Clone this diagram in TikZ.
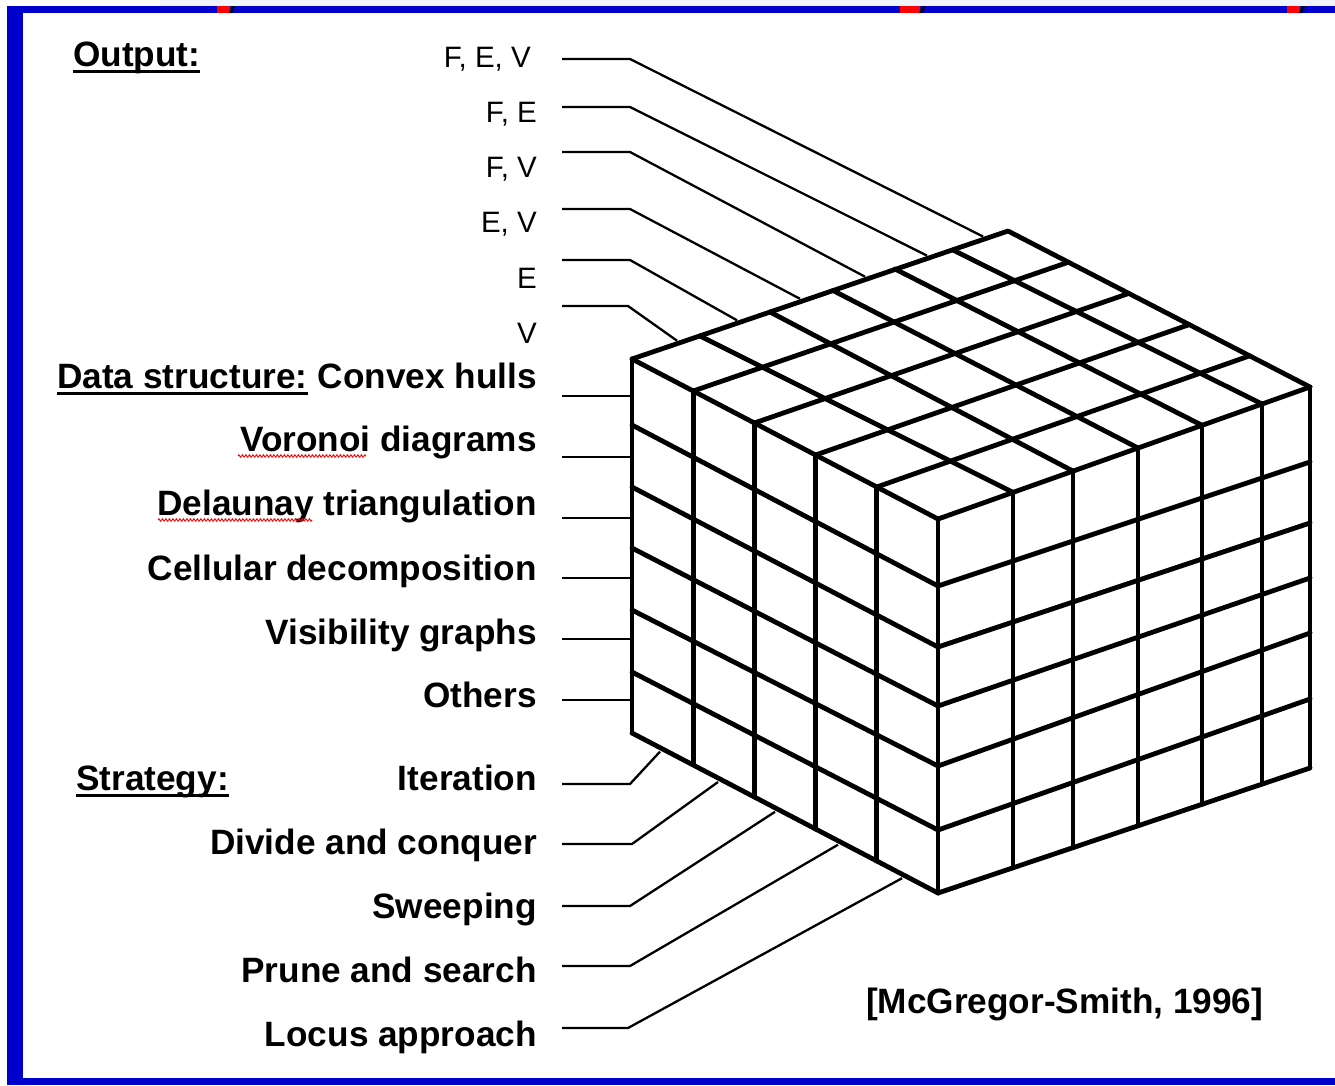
\documentclass[tikz,border=0pt]{standalone}
\usepackage{fontspec}
\setmainfont{Liberation Sans}
\usetikzlibrary{calc,decorations.pathmorphing}
\definecolor{frameblue}{HTML}{0000CC}
\definecolor{paleblue}{HTML}{EEF3FC}
\begin{document}
\begin{tikzpicture}[x=1pt,y=-1pt,
  lab/.style={font=\fontsize{35.2}{40}\selectfont\bfseries, inner sep=0pt, anchor=base east},
  head/.style={font=\fontsize{35.2}{40}\selectfont\bfseries, inner sep=0pt, anchor=base west},
  outlab/.style={font=\fontsize{29.5}{33}\selectfont, inner sep=0pt, anchor=base east},
  leader/.style={line width=2.3pt, line join=miter},
  cubeline/.style={line width=4.8pt, line cap=round, line join=round},
  uline/.style={line width=3pt},
  squig/.style={red, line width=0.9pt, decorate, decoration={zigzag, amplitude=1.2pt, segment length=3.5pt}}
]
\useasboundingbox (0,0) rectangle (1335,1085);
\fill[white] (0,0) rectangle (1335,1085);
% frame
\fill[paleblue] (160,0) rectangle (1335,6);
\fill[frameblue] (7,6) rectangle (1335,13);
\fill[frameblue] (7,6) rectangle (22.5,1085);
\fill[frameblue] (7,1078) rectangle (1335,1085);
\fill[red] (217,6) rectangle (230,13);
\fill[black] (229,13) -- (232,6) -- (235,6) -- (232,13) -- cycle;
\fill[red] (900,6) rectangle (920,13);
\fill[black] (919,13) -- (923,6) -- (926,6) -- (922,13) -- cycle;
\fill[red] (1287,6) rectangle (1300,13);
\fill[black] (1299,13) -- (1302,6) -- (1305,6) -- (1302,13) -- cycle;

% ---------- cube ----------
% left face rows
\draw[cubeline] (632,359) -- (938,519);
\draw[cubeline] (632,425) -- (938,586);
\draw[cubeline] (632,487) -- (938,647);
\draw[cubeline] (632,548) -- (938,706);
\draw[cubeline] (632,610) -- (938,766);
\draw[cubeline] (632,672) -- (938,830);
\draw[cubeline] (632,733) -- (938,893);
% left face columns
\draw[cubeline] (632,359) -- (632,733);
\draw[cubeline] (693.2,391) -- (693.2,765);
\draw[cubeline] (754.4,423) -- (754.4,797);
\draw[cubeline] (815.6,455) -- (815.6,829);
\draw[cubeline] (876.8,487) -- (876.8,861);
\draw[cubeline] (938,519) -- (938,893);
% right face rows
\draw[cubeline] (938,519) -- (1310,387);
\draw[cubeline] (938,586) -- (1310,462);
\draw[cubeline] (938,647) -- (1310,523);
\draw[cubeline] (938,706) -- (1310,578);
\draw[cubeline] (938,766) -- (1310,633);
\draw[cubeline] (938,830) -- (1310,699);
\draw[cubeline] (938,893) -- (1310,768);
% right face columns
\draw[cubeline] (1013,492.4) -- (1013,867.8);
\draw[cubeline] (1073,471.1) -- (1073,847.6);
\draw[cubeline] (1138,448) -- (1138,825.8);
\draw[cubeline] (1202,425.3) -- (1202,804.3);
\draw[cubeline] (1262,404) -- (1262,784.1);
\draw[cubeline, line width=3.6pt] (1310,387) -- (1310,768);
% top face
\draw[cubeline] (632,359) -- (1008,231) -- (1310,387);
\draw[cubeline] (693.2,391) -- (1068.4,262.2);
\draw[cubeline] (754.4,423) -- (1128.8,293.4);
\draw[cubeline] (815.6,455) -- (1189.2,324.6);
\draw[cubeline] (876.8,487) -- (1249.6,355.8);
\draw[cubeline] (1013,492.4) -- (700,336);
\draw[cubeline] (1073,471.1) -- (770,312);
\draw[cubeline] (1138,448) -- (833,290.5);
\draw[cubeline] (1202,425.3) -- (895,269);
\draw[cubeline] (1262,404) -- (953,250);

% ---------- labels ----------
\node[head] (outh) at (73,66) {Output:};
\draw[uline] ([yshift=-5pt]outh.base west) -- ([yshift=-5pt]outh.base east);
\node[outlab] (o1) at (531,67) {F, E, V};
\node[outlab] (o2) at (537,122) {F, E};
\node[outlab] (o3) at (537,177) {F, V};
\node[outlab] (o4) at (537,232) {E, V};
\node[outlab] (o5) at (537,288) {E};
\node[outlab] (o6) at (537,343) {V};

\node[head] (dsh) at (57,388) {Data structure:};
\draw[uline] ([yshift=-5pt]dsh.base west) -- ([yshift=-5pt]dsh.base east);
\node[lab] (d1) at (537,388) {Convex hulls};
\node[lab] (d2) at (537,451) {Voronoi diagrams};
\node[lab] (d3) at (537,515) {Delaunay triangulation};
\node[lab] (d4) at (537,580) {Cellular decomposition};
\node[lab] (d5) at (537,644) {Visibility graphs};
\node[lab] (d6) at (537,707) {Others};
\draw[squig] (238,456) -- (366,456);
\draw[squig] (158,520) -- (312,520);

\node[head] (sth) at (76,790) {Strategy:};
\draw[uline] ([yshift=-5pt]sth.base west) -- ([yshift=-5pt]sth.base east);
\node[lab] (s1) at (537,790) {Iteration};
\node[lab] (s2) at (537,854) {Divide and conquer};
\node[lab] (s3) at (537,918) {Sweeping};
\node[lab] (s4) at (537,982) {Prune and search};
\node[lab] (s5) at (537,1046) {Locus approach};

\node[head] (cite) at (866,1013) {[McGregor-Smith, 1996]};

% ---------- leader coordinates ----------
\coordinate (o1a) at (562,59);  \coordinate (o1b) at (630,59);  \coordinate (o1c) at (983,236.5);
\coordinate (o2a) at (562,107); \coordinate (o2b) at (630,107); \coordinate (o2c) at (927,255.6);
\coordinate (o3a) at (562,152); \coordinate (o3b) at (630,152); \coordinate (o3c) at (865,276.7);
\coordinate (o4a) at (562,209); \coordinate (o4b) at (630,209); \coordinate (o4c) at (800,298.8);
\coordinate (o5a) at (562,260); \coordinate (o5b) at (630,260); \coordinate (o5c) at (737,320.3);
\coordinate (o6a) at (562,306); \coordinate (o6b) at (628,306); \coordinate (o6c) at (677,340.7);
\foreach \i in {1,...,6} \draw[leader] (o\i a) -- (o\i b) -- (o\i c);

\coordinate (d1a) at (562,396); \coordinate (d1b) at (632,396);
\coordinate (d2a) at (562,457); \coordinate (d2b) at (632,457);
\coordinate (d3a) at (562,518); \coordinate (d3b) at (632,518);
\coordinate (d4a) at (562,578); \coordinate (d4b) at (632,578);
\coordinate (d5a) at (562,639); \coordinate (d5b) at (632,639);
\coordinate (d6a) at (562,700); \coordinate (d6b) at (632,700);
\foreach \i in {1,...,6} \draw[leader] (d\i a) -- (d\i b);

\coordinate (s1a) at (562,784);  \coordinate (s1b) at (630,784);  \coordinate (s1c) at (660,751.6);
\coordinate (s2a) at (562,844);  \coordinate (s2b) at (632,844);  \coordinate (s2c) at (718,782);
\coordinate (s3a) at (562,906);  \coordinate (s3b) at (630,906);  \coordinate (s3c) at (775,811.8);
\coordinate (s4a) at (562,966);  \coordinate (s4b) at (630,966);  \coordinate (s4c) at (838,844.7);
\coordinate (s5a) at (562,1028); \coordinate (s5b) at (628,1028); \coordinate (s5c) at (902,878.2);
\foreach \i in {1,...,5} \draw[leader] (s\i a) -- (s\i b) -- (s\i c);
\end{tikzpicture}
\end{document}
